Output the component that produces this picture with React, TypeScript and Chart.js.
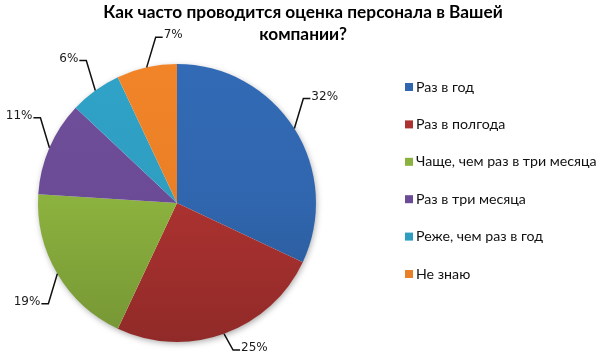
import React, { useEffect, useRef } from "react";
import { Chart, registerables } from "chart.js";

Chart.register(...registerables);

const TITLE_LINES = ["Как часто проводится оценка персонала в Вашей", "компании?"];
const CATEGORIES = [
  "Раз в год",
  "Раз в полгода",
  "Чаще, чем раз в три месяца",
  "Раз в три месяца",
  "Реже, чем раз в год",
  "Не знаю",
];
const VALUES = [32, 25, 19, 11, 6, 7];
const COLORS = ["#3066ae", "#ab3230", "#8bb13e", "#6b4b95", "#2e9dc0", "#e97f26"];

function shade(hex: string, f: number): string {
  const n = parseInt(hex.slice(1), 16);
  const r = Math.min(255, Math.round(((n >> 16) & 255) * f));
  const g = Math.min(255, Math.round(((n >> 8) & 255) * f));
  const b = Math.min(255, Math.round((n & 255) * f));
  return `rgb(${r},${g},${b})`;
}

const titlePlugin = {
  id: "customTitle",
  afterDraw(chart: any) {
    const ctx = chart.ctx;
    ctx.save();
    ctx.fillStyle = "#000";
    ctx.font = "bold 17.3px Lato";
    ctx.textAlign = "center";
    ctx.textBaseline = "middle";
    TITLE_LINES.forEach((line, i) => {
      ctx.fillText(line, 303, 12 + i * 22);
    });
    ctx.restore();
  },
};

const legendPlugin = {
  id: "customLegend",
  afterDraw(chart: any) {
    const ctx = chart.ctx;
    const labels = chart.data.labels as string[];
    ctx.save();
    ctx.font = "14.2px Lato";
    ctx.textBaseline = "middle";
    ctx.textAlign = "left";
    labels.forEach((lab, i) => {
      const y = 87 + i * 37.4;
      ctx.fillStyle = COLORS[i];
      ctx.fillRect(405, y - 4, 8, 8);
      ctx.fillStyle = "#111";
      ctx.fillText(lab, 416, y);
    });
    ctx.restore();
  },
};

const shadowPlugin = {
  id: "pieShadow",
  beforeDatasetsDraw(chart: any) {
    const meta = chart.getDatasetMeta(0);
    const arc = meta.data[0];
    if (!arc) return;
    const { x, y, outerRadius } = arc.getProps(["x", "y", "outerRadius"], true);
    const ctx = chart.ctx;
    ctx.save();
    ctx.shadowColor = "rgba(0,0,0,0.35)";
    ctx.shadowBlur = 6;
    ctx.shadowOffsetX = 1;
    ctx.shadowOffsetY = 2;
    ctx.fillStyle = "#ffffff";
    ctx.beginPath();
    ctx.arc(x, y, outerRadius - 0.5, 0, Math.PI * 2);
    ctx.fill();
    ctx.restore();
  },
};

const labelPlugin = {
  id: "leaderLabels",
  afterDatasetsDraw(chart: any) {
    const ctx = chart.ctx;
    const meta = chart.getDatasetMeta(0);
    const data = chart.data.datasets[0].data as number[];
    const total = data.reduce((a, b) => a + b, 0);
    const H = chart.height;
    ctx.save();
    ctx.font = "12px 'DejaVu Sans'";
    ctx.textBaseline = "middle";
    ctx.strokeStyle = "#111";
    ctx.lineWidth = 1.5;
    ctx.fillStyle = "#1a1a1a";
    meta.data.forEach((arc: any, i: number) => {
      const { x, y, startAngle, endAngle, outerRadius } = arc.getProps(
        ["x", "y", "startAngle", "endAngle", "outerRadius"],
        true
      );
      const mid = (startAngle + endAngle) / 2;
      const cx = Math.cos(mid);
      const sy = Math.sin(mid);
      const ex = x + outerRadius * cx;
      const ey = y + outerRadius * sy;
      const dir = Math.abs(cx) < 0.25 ? 1 : cx >= 0 ? 1 : -1;
      const vsign = sy >= 0 ? 1 : -1;
      const lx = ex + dir * 9;
      let ly = ey + vsign * 30;
      ly = Math.max(37, Math.min(H - 7, ly));
      const hx = lx + dir * 7;
      ctx.beginPath();
      ctx.moveTo(ex, ey);
      ctx.lineTo(lx, ly);
      ctx.lineTo(hx, ly);
      ctx.stroke();
      const txt = Math.round((data[i] / total) * 100) + "%";
      ctx.textAlign = dir > 0 ? "left" : "right";
      ctx.fillText(txt, hx + dir * 1, ly - 2);
    });
    ctx.restore();
  },
};

export default function App() {
  const canvasRef = useRef<HTMLCanvasElement | null>(null);

  useEffect(() => {
    const canvas = canvasRef.current;
    if (!canvas) return;
    const chart = new Chart(canvas, {
      type: "pie",
      data: {
        labels: CATEGORIES,
        datasets: [
          {
            data: VALUES,
            backgroundColor: (c: any) => {
              const color = COLORS[c.dataIndex];
              const area = c.chart.chartArea;
              if (!area) return color;
              const g = c.chart.ctx.createLinearGradient(0, area.top, 0, area.bottom);
              g.addColorStop(0, shade(color, 1.04));
              g.addColorStop(0.5, color);
              g.addColorStop(1, shade(color, 0.84));
              return g;
            },
            borderWidth: 0,
          },
        ],
      },
      options: {
        responsive: false,
        animation: false,
        layout: { padding: { left: 38, top: 64, right: 284, bottom: 15 } },
        plugins: {
          legend: { display: false },
          title: { display: false },
          tooltip: { enabled: false },
        },
      },
      plugins: [shadowPlugin, labelPlugin, legendPlugin, titlePlugin],
    });
    return () => chart.destroy();
  }, []);

  return (
    <div style={{ position: "fixed", left: 0, top: 0, width: 600, height: 357, background: "#fff" }}>
      <canvas ref={canvasRef} width={600} height={357} style={{ width: 600, height: 357 }} />
    </div>
  );
}
